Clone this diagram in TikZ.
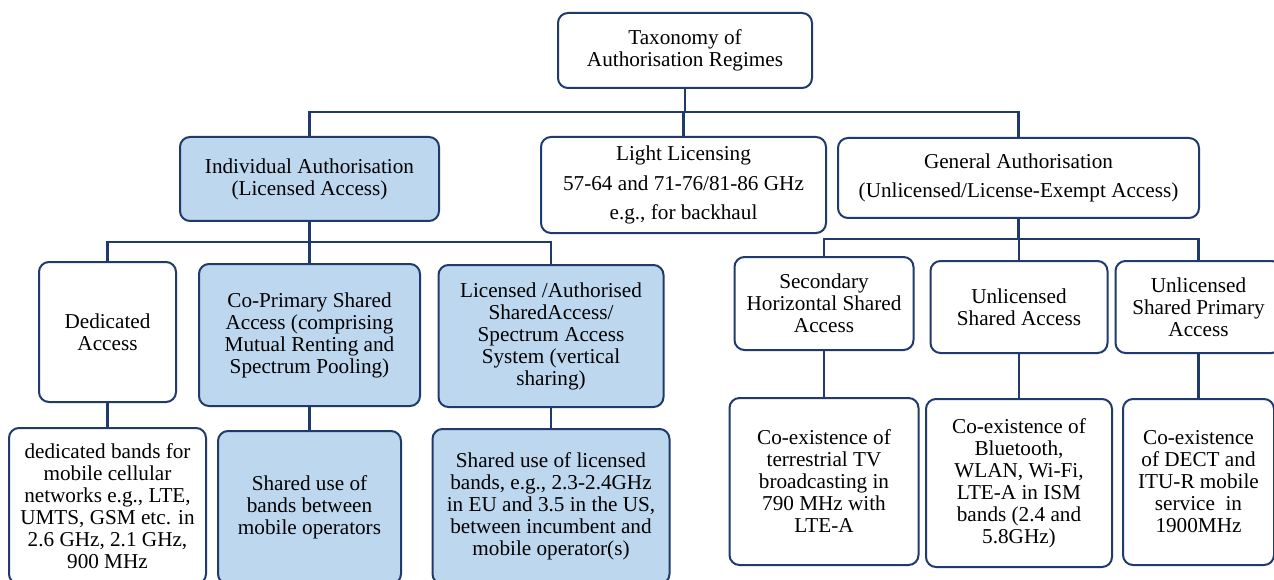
\documentclass[tikz,border=0pt]{standalone}
\usepackage{fontspec}
\setmainfont{Liberation Serif}
\definecolor{navy}{HTML}{1F3A6B}
\definecolor{lblue}{HTML}{BDD7EE}
\tikzset{
  box/.style={draw=navy, line width=2pt, rounded corners=10pt, align=center, inner sep=0pt, fill=white,
    font=\fontsize{21.2}{22}\selectfont},
  bluebox/.style={box, fill=lblue},
  widebox/.style={box, font=\fontsize{21.2}{29.5}\selectfont},
  conn/.style={draw=navy, line width=2.8pt}
}
\begin{document}
\begin{tikzpicture}[x=1pt,y=-1pt]
\useasboundingbox[clip] (0,0) rectangle (1274,580);
\fill[white] (0,0) rectangle (1274,580);
% level 0
\node[box, minimum width=254pt, minimum height=75pt] (root) at (685,50.5) {Taxonomy of\\Authorisation Regimes};
% level 1
\node[bluebox, minimum width=259pt, minimum height=84pt] (ind) at (309.5,179) {Individual Authorisation\\(Licensed Access)};
\node[widebox, minimum width=285pt, minimum height=96pt] (light) at (683.5,185) {Light Licensing\\57-64 and 71-76/81-86 GHz\\e.g., for backhaul};
\node[widebox, minimum width=361pt, minimum height=80pt] (gen) at (1018.5,178) {General Authorisation\\(Unlicensed/License-Exempt Access)};
% level 2 left
\node[box, minimum width=137pt, minimum height=140pt] (ded) at (107.5,332) {Dedicated\\Access};
\node[bluebox, minimum width=221pt, minimum height=142pt] (cop) at (309.5,335) {Co-Primary Shared\\Access (comprising\\Mutual Renting and\\Spectrum Pooling)};
\node[bluebox, minimum width=225pt, minimum height=142pt] (lic) at (551,336) {Licensed /Authorised\\SharedAccess/\\Spectrum Access\\System (vertical\\sharing)};
% level 3 left
\node[box, minimum width=197pt, minimum height=156pt] (dedb) at (107.5,506) {dedicated bands for\\mobile cellular\\networks e.g., LTE,\\UMTS, GSM etc. in\\2.6 GHz, 2.1 GHz,\\900 MHz};
\node[bluebox, minimum width=183pt, minimum height=153pt] (copb) at (309.5,507.5) {Shared use of\\bands between\\mobile operators};
\node[bluebox, minimum width=237pt, minimum height=155pt] (licb) at (551,506.5) {Shared use of licensed\\bands, e.g., 2.3-2.4GHz\\in EU and 3.5 in the US,\\between incumbent and\\mobile operator(s)};
% level 2 right
\node[box, minimum width=179pt, minimum height=93pt] (sec) at (824,303.5) {Secondary\\Horizontal Shared\\Access};
\node[box, minimum width=177pt, minimum height=92pt] (uns) at (1019,307) {Unlicensed\\Shared Access};
\node[box, minimum width=166pt, minimum height=92pt] (usp) at (1198.5,307) {Unlicensed\\Shared Primary\\Access};
% level 3 right
\node[box, minimum width=189pt, minimum height=167pt] (tv) at (824,481.5) {Co-existence of\\terrestrial TV\\broadcasting in\\790 MHz with\\LTE-A};
\node[box, minimum width=186pt, minimum height=168pt] (bt) at (1019,483) {Co-existence of\\Bluetooth,\\WLAN, Wi-Fi,\\LTE-A in ISM\\bands (2.4 and\\5.8GHz)};
\node[box, minimum width=151pt, minimum height=166pt] (dect) at (1198.5,482) {Co-existence\\of DECT and\\ITU-R mobile\\service~ in\\1900MHz};
% connectors
\coordinate (busA) at (0,112);
\coordinate (busB) at (0,242);
\coordinate (busC) at (0,239);
\draw[conn] (root.south) -- (root.south |- busA);
\draw[conn] (ind.north) -- (ind.north |- busA) -- (gen.north |- busA) -- (gen.north);
\draw[conn] (light.north) -- (light.north |- busA);
\draw[conn] (ind.south) -- (ind.south |- busB);
\draw[conn] (ded.north) -- (ded.north |- busB) -- (lic.north |- busB) -- (lic.north);
\draw[conn] (cop.north) -- (cop.north |- busB);
\draw[conn] (gen.south) -- (gen.south |- busC);
\draw[conn] (sec.north) -- (sec.north |- busC) -- (usp.north |- busC) -- (usp.north);
\draw[conn] (uns.north) -- (uns.north |- busC);
\draw[conn] (ded.south) -- (dedb.north);
\draw[conn] (cop.south) -- (copb.north);
\draw[conn] (lic.south) -- (licb.north);
\draw[conn] (sec.south) -- (tv.north);
\draw[conn] (uns.south) -- (bt.north);
\draw[conn] (usp.south) -- (dect.north);
\end{tikzpicture}
\end{document}
